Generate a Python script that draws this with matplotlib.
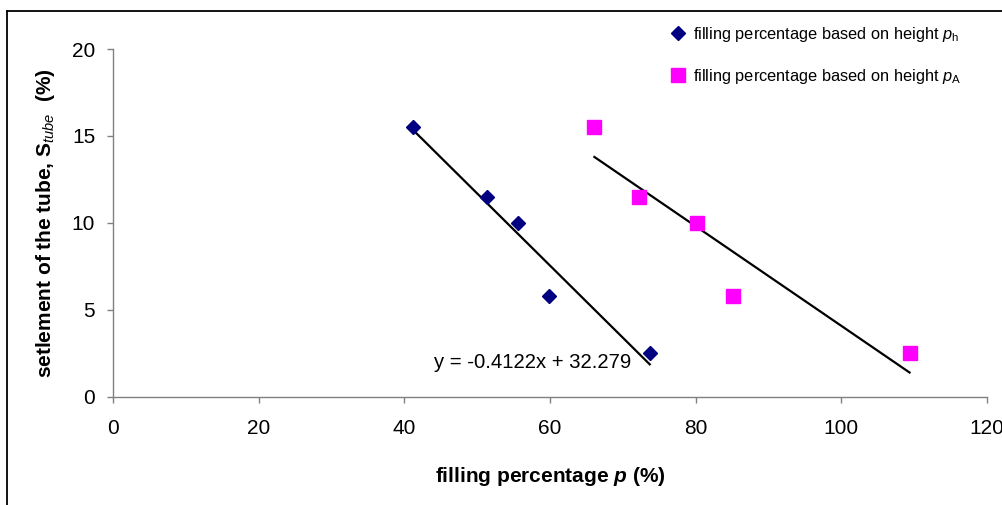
import numpy as np
import matplotlib
matplotlib.use("Agg")
import matplotlib.pyplot as plt
from matplotlib.lines import Line2D

plt.rcParams['font.family'] = ['Liberation Sans', 'DejaVu Sans']
plt.rcParams['mathtext.fontset'] = 'custom'
plt.rcParams['mathtext.rm'] = 'Liberation Sans'
plt.rcParams['mathtext.it'] = 'Liberation Sans:italic'
plt.rcParams['mathtext.bf'] = 'Liberation Sans:bold'
plt.rcParams['mathtext.bfit'] = 'Liberation Sans:bold:italic'

# Data
settlement = [15.5, 11.5, 10.0, 5.8, 2.5]
p_h = [41.2, 51.3, 55.6, 59.9, 73.7]
p_A = [66.1, 72.2, 80.2, 85.2, 109.4]
label_h = r"filling percentage based on height $\mathit{p}_{\mathrm{h}}$"
label_A = r"filling percentage based on height $\mathit{p}_{\mathrm{A}}$"
equation_text = "y = -0.4122x + 32.279"
x_ticks = [0, 20, 40, 60, 80, 100, 120]
y_ticks = [0, 5, 10, 15, 20]

fig = plt.figure(figsize=(10.03, 5.05), dpi=100)
ax = fig.add_axes([113.3 / 1003, 1 - 396.7 / 505, (986.7 - 113.3) / 1003, (396.7 - 49) / 505])

# trend lines
for xs in (p_h, p_A):
    xs_arr = np.array(xs)
    k, b = np.polyfit(xs_arr, np.array(settlement), 1)
    xx = np.array([xs_arr.min(), xs_arr.max()])
    ax.plot(xx, k * xx + b, color='black', lw=1.6, zorder=2)

ax.plot(p_h, settlement, linestyle='none', marker='D', markersize=7.3,
        color='#000080', label=label_h, zorder=3)
ax.plot(p_A, settlement, linestyle='none', marker='s', markersize=10.3,
        color='#FF00FF', label=label_A, zorder=3)

ax.text(57.6, 1.95, equation_text, fontsize=14.6, ha='center', va='center')

ax.set_xlim(0, 120)
ax.set_ylim(0, 20)
ax.set_xticks(x_ticks)
ax.set_yticks(y_ticks)
for s in ('top', 'right'):
    ax.spines[s].set_visible(False)
for s in ('left', 'bottom'):
    ax.spines[s].set_color('#808080')
    ax.spines[s].set_linewidth(1.0)
ax.tick_params(axis='both', direction='out', length=4, width=1.0, color='#808080',
               labelsize=15)
ax.tick_params(axis='x', pad=12)
ax.tick_params(axis='y', pad=9)

ax.set_xlabel(r"filling percentage $\mathbfit{p}$ (%)", fontsize=15, fontweight='bold')
ax.set_ylabel(r"setlement of the tube, S$_{\mathit{tube}}$  (%)", fontsize=15,
              fontweight='bold')
ax.xaxis.set_label_coords(0.5, -0.197)
ax.yaxis.set_label_coords(-0.064, 0.5)

leg = ax.legend(loc='upper left', bbox_to_anchor=(668 / 1003, 1 - 25 / 505),
                bbox_transform=fig.transFigure, frameon=False, fontsize=11.8,
                handletextpad=0.35, labelspacing=1.4, handlelength=1.2,
                borderaxespad=0, borderpad=0)

# outer figure border (left and top visible)
fig.add_artist(Line2D([7.5 / 1003, 7.5 / 1003], [0, 1 - 11 / 505], color='black', lw=1.3,
                      transform=fig.transFigure))
fig.add_artist(Line2D([7.5 / 1003, 1], [1 - 11 / 505, 1 - 11 / 505], color='black', lw=1.3,
                      transform=fig.transFigure))

fig.savefig('out.png', dpi=100)
